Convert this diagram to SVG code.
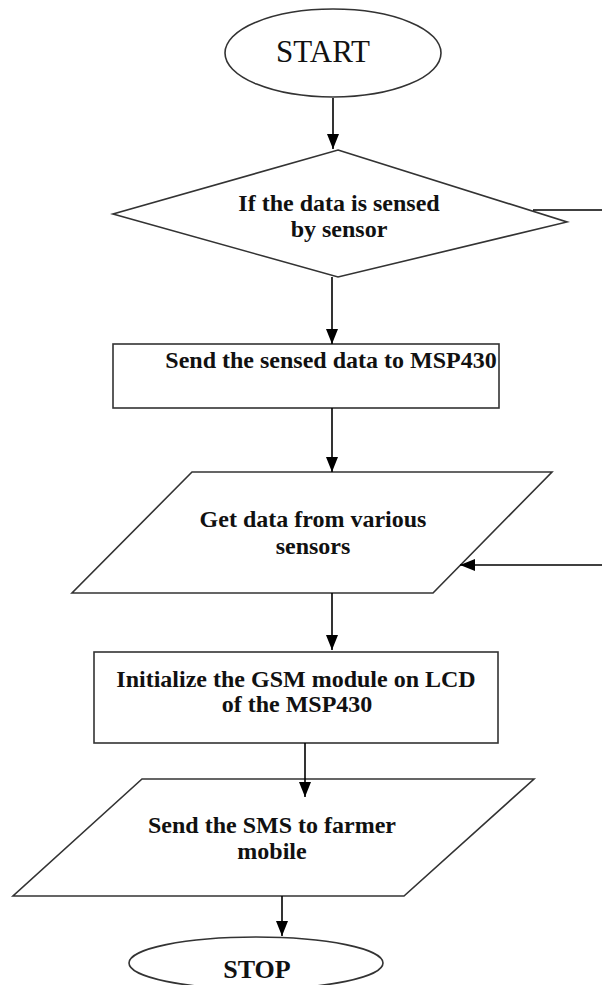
<svg xmlns="http://www.w3.org/2000/svg" width="602" height="985" viewBox="0 0 602 985">
<style>
.shape{fill:#fff;stroke:#333;stroke-width:1.6}
.conn{fill:none;stroke:#000;stroke-width:1.6}
.t{font-family:"Liberation Serif","Times New Roman",serif;font-size:24px;font-weight:bold;fill:#111;text-anchor:middle}
.term{font-family:"Liberation Serif","Times New Roman",serif;fill:#111;text-anchor:middle}
</style>
<defs>
<marker id="arr" markerUnits="userSpaceOnUse" markerWidth="15" markerHeight="12" refX="15" refY="6" orient="auto">
<path d="M0,0 L15,6 L0,12 z" fill="#000"/>
</marker>
</defs>
<rect width="602" height="985" fill="#fff"/>
<g id="start">
<ellipse class="shape" cx="333" cy="53" rx="108" ry="44"/>
<text class="term" x="323" y="62" font-size="31">START</text>
</g>
<g id="decision">
<polygon class="shape" points="338,150 567,222 338,277 113,214"/>
<text class="t" x="339" y="211">If the data is sensed</text>
<text class="t" x="339" y="237">by sensor</text>
</g>
<g id="send-data">
<rect class="shape" x="113" y="344" width="386" height="64"/>
<text class="t" x="331" y="368">Send the sensed data to MSP430</text>
</g>
<g id="get-data">
<polygon class="shape" points="192,472 552,472 433,593 72,593"/>
<text class="t" x="313" y="527">Get data from various</text>
<text class="t" x="313" y="554">sensors</text>
</g>
<g id="init-gsm">
<rect class="shape" x="94" y="652" width="404" height="91"/>
<text class="t" x="296" y="687">Initialize the GSM module on LCD</text>
<text class="t" x="297" y="712">of the MSP430</text>
</g>
<g id="send-sms">
<polygon class="shape" points="142,779 534,779 404,896 13,896"/>
<text class="t" x="272" y="833">Send the SMS to farmer</text>
<text class="t" x="272" y="859">mobile</text>
</g>
<g id="stop">
<ellipse class="shape" cx="256" cy="963" rx="127" ry="26"/>
<text class="term" x="257" y="978" font-size="26" font-weight="bold">STOP</text>
</g>
<g id="connectors">
<line class="conn" x1="333" y1="98" x2="333" y2="149" marker-end="url(#arr)"/>
<line class="conn" x1="533" y1="210" x2="602" y2="210"/>
<line class="conn" x1="332" y1="277" x2="332" y2="344" marker-end="url(#arr)"/>
<line class="conn" x1="332" y1="408" x2="332" y2="472" marker-end="url(#arr)"/>
<line class="conn" x1="602" y1="565" x2="460" y2="565" marker-end="url(#arr)"/>
<line class="conn" x1="332" y1="593" x2="332" y2="650" marker-end="url(#arr)"/>
<line class="conn" x1="305" y1="743" x2="305" y2="797" marker-end="url(#arr)"/>
<line class="conn" x1="282" y1="896" x2="282" y2="936" marker-end="url(#arr)"/>
</g>
</svg>
